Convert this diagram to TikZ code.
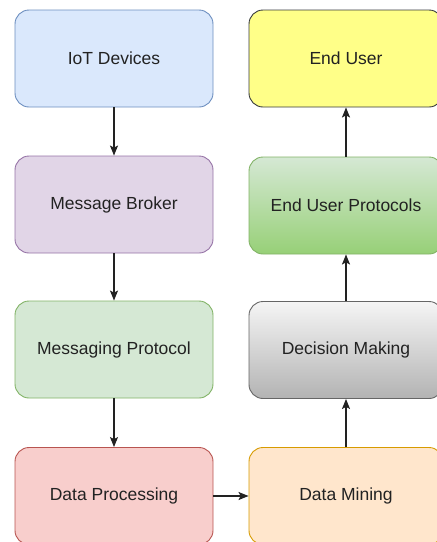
\documentclass[tikz,border=0pt]{standalone}
\usepackage{fontspec}
\setmainfont{Liberation Sans}
\usetikzlibrary{arrows.meta}
\definecolor{txt}{HTML}{222222}
\definecolor{blueF}{HTML}{DAE8FC}\definecolor{blueD}{HTML}{6C8EBF}
\definecolor{purF}{HTML}{E1D5E7}\definecolor{purD}{HTML}{9673A6}
\definecolor{grnF}{HTML}{D5E8D4}\definecolor{grnD}{HTML}{82B366}
\definecolor{grnB}{HTML}{97D077}
\definecolor{redF}{HTML}{F8CECC}\definecolor{redD}{HTML}{B85450}
\definecolor{yelF}{HTML}{FFFF88}\definecolor{yelD}{HTML}{36393D}
\definecolor{gryT}{HTML}{F5F5F5}\definecolor{gryB}{HTML}{B3B3B3}\definecolor{gryD}{HTML}{666666}
\definecolor{orF}{HTML}{FFE6CC}\definecolor{orD}{HTML}{D79B00}
\begin{document}
\begin{tikzpicture}[x=1pt,y=-1pt,
  box/.style={draw, rounded corners=14pt, minimum height=97pt, line width=0.9pt,
    font=\fontsize{17.5}{20}\selectfont, text=txt, inner sep=0pt},
  lbox/.style={box, minimum width=198pt},
  rbox/.style={box, minimum width=194pt},
  arr/.style={-{Stealth[length=10pt,width=8pt,inset=2pt]}, line width=1.1pt, draw=txt}]
\useasboundingbox (0,0) rectangle (437,542);
\clip (0,0) rectangle (437,542);
\node[lbox, fill=blueF, draw=blueD] (iot) at (114,58.5) {IoT Devices};
\node[lbox, fill=purF, draw=purD] (mb) at (114,204.5) {Message Broker};
\node[lbox, fill=grnF, draw=grnD] (mp) at (114,349.5) {Messaging Protocol};
\node[lbox, fill=redF, draw=redD] (dp) at (114,496) {Data Processing};
\node[rbox, fill=yelF, draw=yelD] (eu) at (346,58.5) {End User};
\node[rbox, top color=grnF, bottom color=grnB, draw=grnD] (eup) at (346,205.5) {End User Protocols};
\node[rbox, top color=gryT, bottom color=gryB, draw=gryD] (dm) at (346,350) {Decision Making};
\node[rbox, fill=orF, draw=orD] (dmin) at (346,496) {Data Mining};
\draw[arr] (iot) -- (mb);
\draw[arr] (mb) -- (mp);
\draw[arr] (mp) -- (dp);
\draw[arr] (dp) -- (dmin);
\draw[arr] (dmin) -- (dm);
\draw[arr] (dm) -- (eup);
\draw[arr] (eup) -- (eu);
\end{tikzpicture}
\end{document}
